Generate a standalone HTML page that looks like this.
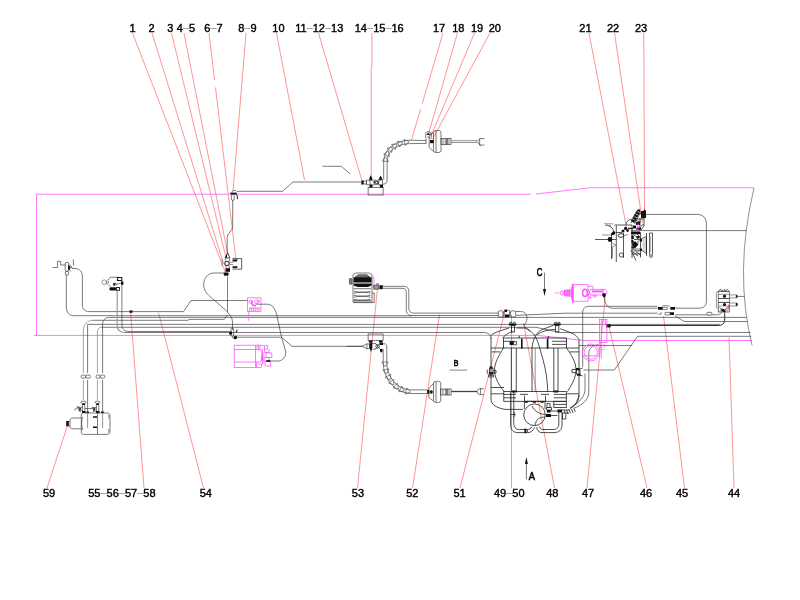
<!DOCTYPE html>
<html><head><meta charset="utf-8">
<style>
html,body{margin:0;padding:0;background:#fff;}
svg{display:block}
text{font-family:"Liberation Sans",sans-serif;font-size:11px;fill:#000;stroke:#000;stroke-width:0.4px}
.d{fill:#888;stroke:none}
.k{fill:none;stroke:#333;stroke-width:0.65}
.g{fill:none;stroke:#666;stroke-width:0.7}
.m{fill:none;stroke:#f5f;stroke-width:0.8}
.r{fill:none;stroke:#f66;stroke-width:0.7}
.b{fill:#111;stroke:none}
</style></head><body>
<svg width="800" height="600" viewBox="0 0 800 600">
<rect width="800" height="600" fill="#fff"/>
<!--LEADERS-->
<g class="r" id="leaders">
<path d="M132.5,33L225.6,273M152,33L223.6,264M171.5,33L225.8,257M184,33L227.5,253M209,33L214.6,80M215.5,87.5L236,260M246,33L233,191M276.5,33L304.5,180M318.5,33L362.5,182.5M371.9,33V67.5M371.2,67.5V176"/>
<path d="M443,33L422.2,103.7M420.7,108.8L411.5,140M457.5,33L428.5,134M474.5,33L431,136M490,33L432.5,139M589,33L626.5,227.5M614.5,33L642.5,222.5M643.8,33L644.5,212"/>
<path d="M47,488L67,427M144,488L130.5,311M203.5,488L158.5,312.5M357.5,488L377.5,288M412.5,488L439.5,314.5M460,488L505,311M511.5,488V315M554.5,488L523.5,323M587,488L605.5,294M647,488L609,326.5M684.5,488L663.5,316M734,488L729,337.5"/>
</g>
<!--MAGENTA-->
<g class="m" id="magenta">
<path d="M36.5,335.5V194.2H531M536,194L590,187.8H754"/>
<path d="M34,335.4H538L584,340.5H752"/>
</g>
<!--PIPES-->
<g class="k" id="pipes">

<!-- top pipe 10 -->
<path d="M237,191.3H282.5L293,182H361M322.5,166.3H341.3L350,173.8"/>
<path d="M232.7,200V226C232.7,232 227.2,232 227.2,238V253"/>
<!-- below valve 1-9 -->
<path d="M227.5,277V312C229.8,314.8 232.5,318 232.5,322V330"/>
<path d="M223.5,273H214C207,273 203.7,279 203.7,285C203.7,290 207,294 210,296.5L227.5,311.8"/>
<!-- left fitting pipes -->
<path d="M72.5,268.5H75C80,268.5 82.4,272 82.4,277V305C82.4,309 85,311.6 89,311.6H183.5L191,300.5H247.6"/>
<path d="M66.3,275V307C66.3,312 69,315.7 74,315.7H412"/>
<rect class="b" x="129.5" y="310.4" width="3" height="2.4"/>
<!-- bundle lines -->
<path d="M110,317.4C105,317.4 102.6,320 102.6,324.5V373M102.6,380V404M110,317.4H746.5"/>
<path d="M92.5,320.3C88.5,320.3 83.4,324 83.4,330V373M83.4,380V400" stroke="#777"/><path d="M92.5,320.3H188L189,319.4H224.1L227.5,315.1"/>
<path d="M87.6,412V380M87.6,373V324.4H720"/>
<path d="M101.5,327.3C99,327.3 97.4,329 97.4,332V373M97.4,380V400" stroke="#777"/><path d="M101.5,327.3H536L560,332.5H750.5"/>
<path d="M117.2,291V325C117.2,330 120,332.5 125,332.5" stroke="#999" stroke-width="1.2"/><path d="M125,332.5H484C488,332.5 491.2,335 491.2,339"/>
<path d="M121.9,284.5V324C121.9,329 124,331.5 129,331.5H232"/>
</g>

<!-- left fitting (top-left) -->
<g class="k" id="fitL">
<path d="M52.5,267.5H57.5V261.3H60.6V265H65.5"/>
<rect x="65.2" y="262.3" width="3.6" height="9" rx="1.8"/>
<rect x="65.4" y="271.5" width="3.2" height="3.5" rx="0.8"/>
<path d="M73.4,259.4V265.6M68.8,266L72.5,268.5M69,269.5L71,271.5M70,264.5L72.5,268.5"/>
<path class="b" d="M68.3,264.5l2.2,3l-1,2.8l-1.5,-1z"/>
</g>
<!-- second left component -->
<g class="k" id="comp2">
<circle cx="104.3" cy="282.3" r="2.4" stroke="#666"/><circle cx="107.4" cy="282.3" r="1.3" stroke="#555"/>
<path d="M108,280L110.3,277.3H119M108,284.5L110.3,286.8"/>
<rect x="117.4" y="277.6" width="4.4" height="2.9" stroke="#111" stroke-width="1"/>
<rect class="b" x="121" y="281.4" width="2.4" height="3.4"/>
<rect class="b" x="113.2" y="283.2" width="2.2" height="2.4"/>
<path d="M116,284.5L121,283M114.5,282.5L117,284.5" />
<rect class="b" x="109.5" y="287.2" width="6.6" height="3.4" rx="1.4"/>
<rect x="116.3" y="287.5" width="3.2" height="2.8" stroke="#111" stroke-width="0.9"/>
</g>
<!-- fitting 8-9 on magenta line -->
<g class="k" id="fit89">
<path class="b" d="M230.3,192.6h6.4v1.8h-6.4z"/>
<path d="M232,192.5C232,190 236,190 236.5,191.3"/>
<rect x="231.4" y="194.6" width="2.8" height="5.6" rx="0.8"/>
<path d="M235.8,194.5C237.6,194.8 237.6,197 237.4,199.2" stroke-width="1.1"/>
</g>
<!-- valve 1-9 -->
<g class="k" id="valve19">
<path d="M227.6,252.6L229.8,258H225.2Z" stroke-width="0.9"/>
<path class="b" d="M227.4,253l-2.2,5h1.6z"/>
<circle cx="227" cy="263.4" r="2.2" stroke-width="1.1"/>
<path d="M222.2,259V266" class="g"/>
<path d="M225.4,258.6V260.5M229.6,258.6V261"/>
<path d="M232.4,258.6H241.7V269.1H232.4" stroke-width="0.8"/>
<path class="b" d="M232.6,259.5h5.2l-1,1.9h-4.2zM232.6,266.3h5.2l-1,1.7h-4.2z"/>
<path d="M229.4,262.4H233.4M229.4,264.6H233.4" class="g"/>
<path class="b" d="M225.5,268.2h4.5v3.6h-4.5z"/>
<path d="M225,266.5L226.5,268.2M229.5,266L229,268.2"/>
<path class="b" d="M223.6,272.6h5v1.8l-1.2,2.2l-1.2,-1.4l-1.4,1l-1.2,-2z"/>
</g>

<!-- valve 14-16 -->
<g class="k" id="valve1416">
<rect x="368.1" y="187.4" width="15" height="7.6"/>
<rect class="b" x="361.3" y="180.5" width="2.2" height="4"/><rect x="363.5" y="181" width="3" height="3"/>
<path d="M366.5,180.2H370V184.8H366.5Z"/>
<path class="b" d="M370.8,175.2l1.4,2.6h-2.8zM369.4,177.8h2.8v2.4h-2.8zM380.6,175.6l1.4,2.4h-2.8zM379.2,178h2.8v2.2h-2.8z"/>
<path d="M370,180.2h6l2,2.3l-2,2.3h-6M376,180.2l4,4.6M380,180.2l-4,4.6M378,179.5h4.5v5.5h-4.5z"/>
<path class="b" d="M369.5,184.8h3v2.6h-3zM380,184.8h3v2.6h-3zM373.5,181.2h2v2.2h-2z"/>
<circle cx="377" cy="182.5" r="1.6"/>
<!-- elbow -->
<path d="M387.1,162V179.5C387.1,182.6 386,184.2 383,184.2M383.7,162V179.5"/>
</g>
<g class="k" id="hoseTop"><path d="M387.1,162.0L387.2,160.6L387.3,159.3L387.5,158.1L387.9,156.9L388.3,155.7L388.8,154.6L389.4,153.5L390.1,152.4L390.9,151.5L391.7,150.5L392.6,149.6L393.6,148.8L394.7,148.0L395.9,147.3L397.1,146.6L398.4,146.0L399.7,145.5L401.2,145.0L402.7,144.6L404.2,144.2L405.8,144.0L407.5,143.8L409.2,143.6L411.0,143.6M383.7,162.0L383.8,160.4L383.9,158.8L384.2,157.3L384.6,155.8L385.1,154.4L385.8,153.0L386.5,151.7L387.3,150.5L388.2,149.3L389.3,148.2L390.3,147.1L391.5,146.1L392.8,145.2L394.1,144.3L395.5,143.6L397.0,142.9L398.6,142.3L400.2,141.7L401.8,141.3L403.6,140.9L405.4,140.6L407.2,140.4L409.1,140.2L411.0,140.2"/><path d="M388.5,161.4 L382.3,161.2 L385.6,156.7 ZM389.5,156.4 L383.7,154.2 L388.3,151.0 ZM391.8,152.5 L387.0,148.5 L392.4,146.9 ZM395.2,149.4 L391.6,144.3 L397.2,144.2 ZM399.6,147.0 L397.4,141.2 L402.8,142.4 ZM405.1,145.5 L404.0,139.4 L409.1,141.7 Z" stroke-width="0.55"/>
<path d="M411,140.2L426,140.6M411,143.6L426,143.4"/>
</g>
<!-- top chamber 17-20 -->
<g class="k" id="chamTop">
<rect x="433.5" y="130.5" width="7.5" height="22" rx="2.2"/>
<path d="M433.5,132.5L429.2,135.5V147.5L433.5,151.5M436,131V152"/>
<rect class="b" x="430" y="140" width="3.6" height="3.2"/>
<path d="M425.8,138.6V133.5C425.8,132.2 427,131.6 428.5,131.8L431.2,132.6V138.6M426.5,134.5H431M427.5,136.5L430.5,138.5M426,138.6V144"/>
<path class="b" d="M427.2,133.2h2.2v1.6h-2.2z"/>
<rect x="441" y="138.6" width="10" height="6"/>
<path d="M443,138.6v6M445.3,138.6v6M449,138.6v6" />
<path d="M447,138.6v6" stroke-width="1.3"/>
<path d="M451,140.7H477M451,142.5H477" class="g"/>
<path d="M477,141.6L480,138.6H484.5M477,141.6L480,145H484.3M479.6,138.6V145M479.6,145L480.6,146.3" />
</g>
<!-- lower valve 53 -->
<g class="k" id="valve53">
<rect x="368.1" y="334" width="15" height="6.6"/>
<path class="b" d="M368.8,340.6h3.6v1.8h-3.6zM379,340.6h3.6v1.8h-3.6z"/>
<path d="M362.6,346.3l4.3,-2.6v5.2zM366.9,344h2.6v4.6h-2.6"/>
<path class="b" d="M369.5,342.4h2.8v5.4l-1.4,4.2l-1.4,-4.2z"/>
<path d="M372.3,343.4h3.2l2.4,2.9l-2.4,2.9h-3.2M375.5,343.4l4.4,5.8M379.9,343.4l-4.4,5.8"/>
<circle cx="377.6" cy="346.3" r="1.8"/>
<path class="b" d="M379.6,342.6h3.4v2.4h-3.4zM380,349h2.6v2.2l-1.3,1.6l-1.3,-1.6z"/>
<path d="M346.5,346.3H362.6"/>
<!-- elbow -->
<path d="M383,343.8H384.2C386.2,343.8 386.8,345 386.8,347V362M383.2,349V362"/>
</g>
<g class="k" id="hoseBot"><path d="M383.2,362.0L383.3,364.1L383.4,366.2L383.7,368.2L384.1,370.2L384.7,372.1L385.3,374.0L386.0,375.8L386.8,377.6L387.8,379.3L388.8,381.0L389.9,382.5L391.1,384.0L392.5,385.4L393.9,386.7L395.3,388.0L396.9,389.1L398.5,390.1L400.3,390.9L402.1,391.7L403.9,392.3L405.9,392.8L407.8,393.2L409.9,393.4L412.0,393.5M386.8,362.0L386.9,363.9L387.0,365.7L387.3,367.6L387.6,369.3L388.1,371.1L388.7,372.8L389.3,374.4L390.1,376.0L390.9,377.5L391.8,379.0L392.8,380.4L393.9,381.7L395.0,382.9L396.2,384.0L397.5,385.1L398.9,386.1L400.3,386.9L401.8,387.7L403.3,388.3L405.0,388.9L406.6,389.3L408.4,389.6L410.2,389.8L412.0,389.9"/><path d="M381.8,362.0 L388.2,362.0 L385.0,366.6 ZM382.7,370.2 L388.9,368.8 L386.8,373.9 ZM385.1,377.2 L390.9,374.5 L389.9,380.1 ZM388.6,383.1 L393.7,379.2 L393.9,384.8 ZM393.2,388.0 L397.3,383.1 L398.8,388.6 ZM398.8,391.8 L401.7,386.1 L404.3,391.0 ZM405.3,394.1 L406.7,387.9 L410.5,392.1 Z" stroke-width="0.55"/>
<path d="M412,389.9H427M412,393.5H427"/>
</g>
<!-- bottom chamber -->
<g class="k" id="chamBot">
<rect x="433.5" y="381.3" width="7.2" height="21.2" rx="2.2"/>
<path d="M433.5,383.3L428.8,388.6V397.6L433.5,401M436,381.8V402"/>
<rect class="b" x="427.2" y="390" width="2.2" height="3.8"/><rect class="b" x="430.2" y="390.3" width="2.4" height="3.4" rx="1"/>
<rect x="440.7" y="389" width="10.4" height="6"/>
<path d="M442.8,389v6M445.3,389v6M449,389v6"/><path d="M447,389v6" stroke-width="1.3"/>
<path d="M451.2,391.5H477" stroke="#444" stroke-width="1.3"/>
<path d="M477.2,391.8C477.2,389.6 478.6,388.8 480.5,388.8H484M477.2,391.8C477.2,393.6 478.6,394.6 480.5,394.6H484M480.6,388V394.6"/>
</g>
<!-- B, A, C marks -->
<g id="marks" style="filter:grayscale(1)">
<text x="453.7" y="366.3" style="font-size:9.1px;stroke-width:0.6px" text-anchor="start" textLength="4.6" lengthAdjust="spacingAndGlyphs">B</text>
<path d="M449.4,370.1H467.1" stroke="#888" stroke-width="1" fill="none"/>
</g>

<!-- comp 53 air chamber -->
<g class="k" id="comp53">
<path d="M353,302V274.7C354.5,273.6 355.5,273 357,273H367.7C369.5,273 370.5,273.6 372,274.7V302Z"/>
<path d="M354.8,277.2L358.3,274.8H367L370,277.2Z" fill="#777" stroke="#333"/>
<path class="b" d="M353.5,277.3H371.6V282.6H353.5ZM353.6,283.5H371.6V285.4L367.7,286.9H357.7L353.6,285.4Z"/>
<rect x="349.4" y="278.6" width="2.6" height="5.6" rx="0.5" fill="#888" stroke="#333"/>
<path d="M353.5,288.7H371M354,291.3C358,292.5 366,292.5 370.5,291.3M354,293.2C358,291.9 366,291.9 370.5,293.2M354,295.3C358,296.5 366,296.5 370.5,295.3M354,297.2C358,295.9 366,295.9 370.5,297.2M354,299.3C358,300.3 366,300.3 370.5,299.3M353.5,300.6H371" stroke="#3a3a3a" stroke-width="0.7"/>
<path d="M372,293H374.2V302.6H353"/>
<path d="M372.4,275.3C374.6,278 374.6,285 372.6,288" stroke="#f7f" stroke-width="1"/>
<path d="M373.7,285.2h5v4h-5z" fill="#999" stroke="#333"/><path class="b" d="M379.4,285.2h3.4v4h-3.4z" fill="#333"/>
<path d="M376.5,285V283.8H378.6V285"/>
<path d="M383,286.3H403.5C407,286.3 408.8,288 408.8,291.5V308C408.8,311.5 410.5,313.1 414,313.1H498.5"/>
<path d="M383,288.3H402C405,288.3 406.3,289.5 406.3,292.5V309.5C406.3,313.5 408.5,315.5 412,315.5H498.5"/>
</g>
<!-- fitting group at tank top-left (49-50 / 51) -->
<g class="k" id="fit4950">
<rect x="498.3" y="310.8" width="4.6" height="6.2" rx="1.2"/>
<rect x="504" y="310.4" width="5.6" height="6.8" rx="0.8"/>
<rect x="510.6" y="310.8" width="5" height="6.2" rx="1.4"/>
<path class="b" d="M504.6,309.6h2.4v2.4h-2.4zM505,314.6h4v2.4h-4z"/>
<path d="M502.9,312.5h1.1M502.9,315.5h1.1M509.6,312.5h1M509.6,315.5h1"/>
<path d="M515.6,311.5H520.5C525,311.5 527,314.5 527,318.5C527,321.5 525.5,323.5 524,325.2C525,327 527,329 530,331.5"/>
</g>

<!-- fitting at 233,334 -->
<g class="k" id="fit233">
<rect x="231" y="328" width="2.6" height="8.4" rx="1.2"/>
<circle class="b" cx="230.6" cy="333.2" r="1.5"/><circle class="b" cx="235.4" cy="337.5" r="1.8"/>
<path d="M237.2,329.6L236,332.8" stroke-width="1.2"/>
<path d="M232.5,336.4C232.5,338.5 234,339 235,338.6"/>
<path d="M236.5,337.2H281.5L292,346.3H363"/>
</g>
<!-- magenta small valve near 254,304 -->
<g class="m" id="mvalve" stroke-width="0.7">
<rect x="247.6" y="297.8" width="13.4" height="13.6"/>
<path d="M248.7,311.4V320.8"/>
<path d="M249,308H260M249.6,308v3M251.5,308v3M253.4,308v3M255.3,308v3M257.2,308v3M259,308v3M249,300.5h3v2.5h-3zM256.5,299.5a2,2 0 1 0 0.1,0"/>
<path d="M252.5,301C251,303.5 252.5,306.5 256,305.5" stroke-width="1.6"/>
<circle cx="258.3" cy="301.3" r="1.2"/>
</g>
<g class="k">
<path d="M255.4,304.2H267C272,304.2 275,308 276.8,315L281.5,337.2L285,349C286.6,354 285.5,357.5 281.5,360C280,361 279,361 277.5,361H266.5"/>
</g>
<!-- magenta big component -->
<g class="m" id="mbig" stroke-width="0.7">
<rect x="234.2" y="345.2" width="21.3" height="22.3"/>
<path d="M234.2,349.5H255.5M234.2,362H255.5"/>
<path d="M255.5,345.2H261.5M255.5,367.5H261M255.5,349.5H260.5M255.5,362H260.5M257,345.2V349.5M258.5,345.2V349.5M260,345.2V349.5M256.5,362V367.5M258,364H261.5V367.5"/>
<path d="M260.5,349.5C262.5,353 262.5,358 260.5,362"/>
<path d="M261.5,345.6H267.5V349H264.5V346M262.5,349V364M264.5,349V352.5H269V349M266,353H271.8V357.5H266ZM264,357.5H269V361H264ZM265,361.5H270.5V366H265ZM263,352.5V364.5"/>
<path d="M262.5,354C261.5,356 261.5,359 262.5,361" stroke-width="1.3"/>
</g>
<rect class="b" x="266.3" y="360.2" width="4" height="1.6" fill="#666"/>

<!-- comp 59 -->
<g class="k" id="comp59">
<rect x="81.2" y="375" width="4.4" height="3.2" rx="1.4"/><rect x="85.8" y="375" width="4.6" height="3.2" rx="1.4"/>
<rect x="96" y="375" width="4.2" height="3.2" rx="1.4"/><rect x="100.4" y="375" width="4.4" height="3.2" rx="1.4"/>
<ellipse cx="83.5" cy="402.3" rx="2.6" ry="1.2"/><ellipse cx="97.5" cy="402.3" rx="2.6" ry="1.2"/>
<path class="b" d="M82.2,403.6h2.8v1.4h-2.8zM96.2,403.6h2.8v1.4h-2.8z"/>
<path d="M82.4,405V411M84.8,405V411M96.4,405V411M98.8,405V411"/>
<path d="M75,409L79,407L82.4,407.5M79,407V411L82.4,410.5M77,406L80.5,412M75.5,410.5L74.5,409.2M84.8,408.5H92L93.5,407.5L96.4,407.5M93.5,407.5V411.5L96.4,410.5M92,406.5L94.5,411.5"/>
<path class="b" d="M79.5,407.3l2,1.6l-2,1.6zM93.8,407.6l2,1.4l-2,1.4z"/>
<path class="b" d="M82,411h3.6v2h-3.6zM86.4,411.4h2.6v1.6h-2.6zM96,411h3.6v2h-3.6zM101,411.4h2.8v1.6h-2.8z"/>
<path d="M102.6,404V412.5"/>
<path d="M83.5,413H107C109,413 110,414 110,416V431.5C110,433.5 109,434.4 107,434.4H83.5C82,434.4 81.3,433.5 81.3,432.5V415C81.3,413.8 82,413 83.5,413Z"/>
<path d="M81.3,418H72.5C70.8,418 70,419 70,420.5V426.3C70,427.8 70.8,428.8 72.5,428.8H81.3"/>
<path d="M82.8,417C81.2,420 81.2,427 82.8,430M97.5,413V434.4M108.3,415C109.2,416 109.2,417.5 108.4,418.5M108.3,429C109.2,430 109.2,431.5 108.4,432.5"/>
<path d="M87.6,413V428M102.6,413V428" class="g"/>
<rect class="b" x="66.2" y="421" width="2.6" height="5.4"/>
<path d="M68.8,421.5H70M68.8,426H70"/>
<path class="b" d="M93,416.3h4v1.5h-4zM93,426.4h4v1.5h-4z"/>
</g>

<!-- TANK ASSEMBLY -->
<g class="k" id="tank" style="stroke:#222;stroke-width:0.8">
<!-- frame -->
<path d="M491,337.5V399C491,405 497,408 505,409.4H523"/>
<path d="M579,340V395C579,402 575,406 570,407.5"/>
<!-- domes -->
<path d="M490.3,336.3C491,334.5 496,332 502.8,330L509,328M516.5,328H525C529,329 533,333 535.3,336.3C537,340 538.5,343.5 539.2,346.3C542,356 545,366 546.3,375C547.2,381 547.6,386 547.8,391.5"/>
<path d="M512.5,331.5C508,333 504.5,335.5 502.5,338"/>
<path d="M535.3,335.6C537,333 540,330.5 542.8,329.4L553.5,325.2M560.3,328.7L569,332C573,333.6 575.5,335 576.5,336.3C578,338 579,339 579,340"/>
<path d="M536.5,335C540,332.6 545,330.6 549,330L555,329.4"/>
<path d="M535.3,336.3C533.5,339.5 532.3,343.5 532,348.5V391.5"/>
<!-- top fittings -->
<path class="b" d="M508.8,323.4h7.4v2h-7.4z"/><rect x="511.4" y="325.4" width="3.2" height="6.6"/>
<path d="M509.5,323.4C509.5,321.8 512,321.8 512,323.4M513,323.4C513,321.8 515.6,321.8 515.6,323.4"/>
<path class="b" d="M553.8,323.4h6.8v2h-6.8z"/><rect x="555.6" y="325.4" width="3.2" height="6.6"/>
<path d="M554.4,323.4C554.4,321.8 557,321.8 557,323.4M557.6,323.4C557.6,321.8 560.2,321.8 560.2,323.4"/>
<!-- upper bar -->
<rect x="503.4" y="338" width="63.1" height="10"/>
<path d="M503.4,341.3H514.6M552,341.3H566.5M552,344.4H566.5M491,348H503.4M491.5,351.9H500.3M566.5,348H579M569.5,351.9H579"/>
<path d="M521.8,338.8V348.8M547.6,338.8V348.8" stroke-width="1.6" stroke="#111"/>
<path class="b" d="M509.6,341.3h4v3.6h-4z"/><path d="M513.6,341.6h3v3.2h-3z"/>
<path d="M519.8,336.2C518.4,336 518.4,338 519.8,337.8M548.2,336V338.8" stroke-width="0.9"/>
<!-- barrel arcs -->
<path d="M503.4,348C500,354 494.5,362 494.5,370C494.5,378 499,385 504.4,392"/>
<path d="M566.5,348C571,354 576,362 576,370C576,378 571.5,385 567.5,391.6"/>
<!-- straps -->
<path d="M511.3,348V391.6M516.3,348V391.6M553.8,348V391.6M558,348V391.6"/>
<path d="M535.2,348V391.6" class="g"/>
<!-- lower bar -->
<rect x="503.8" y="391.6" width="62.5" height="9.7"/>
<path d="M503.8,394.4H516M503.8,397.8H516M553.8,394.4H566.3M553.8,397.8H566.3M491,387.5H504M491,393.8H504M567,393.8H579"/>
<path class="b" d="M512,390.6h4.6v2h-4.6zM553.6,390.6h4.6v2h-4.6z"/>
<path d="M520,394.4H528M541,394.4H549M524.5,401.3V395.5M545.5,401.3V395.5"/>
<!-- drum -->
<circle cx="534.5" cy="414.8" r="10.8"/>
<path class="b" d="M524.8,401.3h3v1.5h-3zM532.6,401.3h3.4v1.5h-3.4zM540.6,401.3h3v1.5h-3z"/>
<path d="M524.4,401.3H545M524.4,401.3V409M545,401.3V409"/>
<path d="M532,406C535,412 540,414 545,414.6M545.2,417C540,417 535.6,419 535,426"/>
<!-- U pipes -->
<path d="M510.6,392V424C510.6,430 513,432.6 518,432.6H528C531,432.6 533,430.5 534.6,427.4M513.8,392V422.5C513.8,427.5 515.5,429.5 519.5,429.5H527C529.5,429.5 531,428.4 532,426.6"/>
<path d="M536.8,427.2C537,430.5 539,432.6 542,432.6H554C559,432.6 562,430 562,425V412.5M539.6,426.6C540,428.6 541,429.5 543,429.5H553C557,429.5 558.8,427.5 558.8,424V412.5"/>
<path class="b" d="M524.4,428.6h1.8v4.6h-1.8z"/><path d="M526.2,429.5L528,431L526.2,432.6"/>
<path d="M513,412C515.5,412 515.5,417 513,417M511,414.5H515"/>
<!-- valve cluster right bottom -->
<rect x="553.8" y="401.3" width="12.5" height="6.2"/>
<path d="M553.8,404.4H566.3"/>
<path d="M547,403.5H550V407.5H547ZM546.5,407.5H551.5V410H546.5Z"/>
<path class="b" d="M547,410h3.6v2.4h-3.6zM546,414h5v3h-5zM557.4,409.4h4.6v3h-4.6z"/>
<path d="M551,411H557.4M551,415.5H557.4M562,410H570M562,413H569M564,410L565.5,414M566.5,410L568,414M569,409.5L570.5,413.5M571.5,409L573,413M574,408.5L575.2,412"/>
<path d="M562.5,413V419H565.8V414"/>
<!-- right curve s-shape -->
<path d="M579,395C577,403 574,407 570,408.5"/>
<!-- side fittings -->
<path class="b" d="M489.6,366.6h3v2h-3zM489,372.6h4.6v1.8h-4.6z"/>
<rect x="489.4" y="368.6" width="3.6" height="4"/>
<path d="M487.6,369.5C486.8,371 487,373.5 488.4,374.6M493.2,370.4H496V373H493.2M488.6,375.4H493.6V377H488.6Z"/>
<path class="b" d="M576,368h3.6v2h-3.6zM577,374h3.6v1.8h-3.6z"/>
<rect x="576.4" y="370" width="3.6" height="4"/>
<path d="M572,369.4H576.4M572,372.6H576.4M572,369.4V372.6M580,369L582.5,368M580,375L582.5,376"/>
</g>

<!-- right of tank -->
<g class="k" id="rtank">
<path d="M582.7,367V312.5C582.7,308.5 585,306.3 589,306.3H657.5"/>
<path d="M604.4,297C604.4,301 605,303.5 607,305.5C608.5,307.2 610,308.2 612.5,308.2H657.5"/>
<path d="M516,315.4L565,313.2H657.5"/>
<path d="M579,345.5H632"/>
<path d="M751.3,336.3H637.5L614.3,370H583.5"/>
<path d="M608,325.5H718C722.5,325.5 724.7,323.5 724.7,319V312.3" stroke="#333" stroke-width="1"/>
<rect class="b" x="606.2" y="324.2" width="4.4" height="3.2"/>
<path d="M598.3,344.7C592.5,345.2 588.8,348.5 588.8,353.5V392C588.8,400 582,405.5 573.3,408.4"/>
<path d="M585,373.5V389C585,396 579.5,402.5 572.5,406.5"/>
</g>
<g class="m" stroke-width="0.7" id="m47b">
<rect x="599.4" y="319.4" width="7.5" height="23"/>
<path d="M601.3,319.4V358.8M599.4,342.4V357M602.5,321h3v3.5h-3z"/>
<path d="M603.5,344.5C606,344.5 606,347.5 603.5,347.5M602,349.5H604.5"/>
<circle cx="590.8" cy="352.5" r="8.4"/><circle cx="590.8" cy="352.5" r="6.6"/>
<path d="M584,355.8H597.5"/>
</g>

<!-- magenta valve 47 -->
<g class="m" stroke-width="0.7" id="m47">
<path d="M554.8,292.9H559.6" stroke-dasharray="2 0.8"/>
<ellipse cx="561.8" cy="292.9" rx="1.3" ry="2.2"/>
<path d="M564.6,289.8V296M566.2,289.4V296.4M567.8,289.2V296.6M569.4,289V296.8" stroke-width="1.3"/>
<path d="M563,291.5H571M563,294.3H571"/>
<path d="M571,289.5L573,283.7V303L571,296.5Z" fill="#f5f"/>
<rect x="573.2" y="284.6" width="14.8" height="16.6"/>
<ellipse cx="585" cy="292.9" rx="2.4" ry="3.6" stroke-width="1.5"/>
<path d="M588,286.3H592.9V289.4M588,299L590,297L591,299.5M588.5,289.4L590.5,295M590.5,289.4L588.5,295M588,295L591.5,297.5"/>
<path d="M590,289.4H604C606,289.4 606.9,290.5 606.9,292.2C606.9,294 606,295 604,295H590"/>
<path d="M592,291.4H603" stroke-width="2"/>
<rect x="592.9" y="295.2" width="3.5" height="1.7" rx="0.8"/>
<path d="M603,288.8V295.6"/>
</g>
<path class="b" d="M602.4,293.2h3.2v2.6l-0.8,1.4h-1.4l-1,-1.4z"/>
<!-- C and A arrows -->
<g id="arrows" style="filter:grayscale(1)">
<path class="k" d="M544.5,272.6V292M526.4,460V479.4"/>
<path class="b" d="M544.5,296.3l-1.5,-7.3h3zM526.4,456.9l-1.5,7.2h3z"/>
<text x="536.7" y="276.4" style="font-size:10.2px;stroke-width:0.6px" text-anchor="start" textLength="5.6" lengthAdjust="spacingAndGlyphs">C</text>
<text x="528.8" y="479.7" style="font-size:11.5px;stroke-width:0.6px" text-anchor="start" textLength="6.2" lengthAdjust="spacingAndGlyphs">A</text>
</g>

<!-- right frame boundary -->
<g class="k" id="rframe">
<path d="M754,188Q734,272 752,345.3" stroke="#555"/>
<path d="M645,214.4H697C703,214.4 706.4,218 706.4,224V301C706.4,306 703.5,308.2 699,308.2H675.3"/>
<path d="M631,230.6H746.6"/>
</g>
<!-- valve 45 -->
<g class="k" id="valve45">
<path class="b" d="M658,307h4.6v2.7h-4.6zM670.3,307h4.7v2.7h-4.7zM670,312.3h4v2.7h-4z" fill="#222"/>
<path d="M662.6,307.2h4.6v2.3h-4.6zM665,312.4h5v2.5h-5zM658.6,315L660.8,312.5M660,315L662,312.5" stroke="#444"/>
<path d="M662,306.2C664,305.4 668,305.4 670,306.2" class="g"/>
<path d="M675.3,314.8H716.5C720,314.8 721.8,313.5 721.8,310.8"/>
<rect x="706.8" y="312.3" width="5.2" height="2.8" rx="1.2" fill="#fff"/>
<path d="M675.3,316L684.3,321.5H747.5"/>
</g>
<!-- right component -->
<g class="k" id="rcomp">
<rect x="718.2" y="291.6" width="11.1" height="20.4"/>
<path d="M718.2,291.6H717.4C716.8,291.6 716.4,292 716.4,292.8V307.2C716.4,308 716.8,308.4 717.4,308.4H718.2" stroke="#666"/>
<path d="M718.2,294.3H729.3M718.2,306H729.3" stroke="#666"/>
<path d="M718.2,298.5H729.3M718.2,302.4H729.3" stroke="#222" stroke-width="0.8"/>
<path d="M729.3,294.9H736.4C737.2,294.9 737.5,295.6 737.5,296.4C737.5,297.2 737.2,297.9 736.4,297.9H729.3M729.3,303H736.6C737.4,303 737.7,303.7 737.7,304.5C737.7,305.3 737.4,306 736.6,306H729.3" stroke="#555"/>
<ellipse class="b" cx="736.6" cy="296.4" rx="0.8" ry="1.4"/><ellipse class="b" cx="736.6" cy="304.5" rx="0.9" ry="1.4"/>
<circle class="b" cx="724.5" cy="296.2" r="1.6"/><circle class="b" cx="724.5" cy="304.5" r="1.6"/>
<path d="M719,291.6C719,288.6 721.6,288.6 721.8,291M722.4,291.4C723,289 725,289 725.4,291.4M725.8,291.4C726,288.4 728.4,288.4 728.4,291.6M720.5,290.5L724,291.6M724,290L727.5,291.6"/>
<path class="b" d="M722,308.4l2.6,1l1.4,2.2l-2.4,0.6l-2.4,-1.6z"/>
<path d="M719.5,307.5L723,310M727.5,307L725,310M719.5,311L722,309M727.5,311L725.5,309.4" stroke="#222"/>
<path d="M737.5,296.4H744.4"/>
<path d="M728.4,304.8L728,310.2" stroke="#e33" stroke-width="1"/>
</g>

<!-- engine component 21-23 -->
<g class="k" id="engine" style="stroke:#222;stroke-width:0.75">
<path d="M632.5,222L638.8,210.5" stroke="#111" stroke-width="4" stroke-dasharray="2.4 0.6"/>
<path d="M631,223L637,211.5M634.5,224L640.5,212" stroke="#333"/>
<path class="b" d="M636,222h4v3h-4zM633,225.5h3v3h-3zM636.5,227.5h4.5v2.5h-4.5z"/>
<path d="M632,232V225M634,220L641,222M641,226L644,224"/>
<path class="b" d="M641,211h5v7h-5zM639,208.6l1.6,2.4h-3zM644.5,209l1.4,2h-2.6z"/>
<path d="M638,214H641M636,219H644M640,218V230M644,218V226L641,230"/>
<path d="M626,224.5C626.5,221.5 628.5,219.5 631.5,219"/>
<path d="M614.5,225H632M616,232.5H622"/>
<path d="M638,223.5V231" stroke="#f5f" stroke-width="1.1"/>
<circle class="b" cx="625.6" cy="228.4" r="1.6"/><circle class="b" cx="623" cy="231" r="1.5"/><circle class="b" cx="627.6" cy="230.6" r="1.4"/>
<path d="M628,228.5H633" stroke-width="1.4"/>
<ellipse cx="621" cy="235.5" rx="3" ry="1.8" stroke-width="0.9"/>
<path d="M624,235.5L628,234.5" class="g"/>
<path d="M611.5,233V259M616.3,225.5V262M623.5,233V258M632,232V258M640.5,232V257.5"/>
<path d="M604,223.8H613M605,225.6H611M606,224L609,226" class="g"/>
<path d="M609,226C612,227 613.5,229 613.5,232"/>
<ellipse class="b" cx="613.4" cy="233.2" rx="2.3" ry="1.6" transform="rotate(-40 613.4 233.2)"/>
<path d="M602,235H611" class="g" stroke-width="1"/>
<path d="M595,239.5H616.5"/>
<circle class="b" cx="610" cy="239.5" r="2.4"/>
<path d="M611.5,243L616,245L611.5,247.5Z" class="g"/>
<path d="M612.5,247V258" class="g" stroke-width="1.6" stroke="#aaa"/>
<circle cx="621.3" cy="255" r="2.1"/>
<!-- lower cluster -->
<path class="b" d="M631,231.6h9v2.6h-9zM631.4,235.6h2.4v3.4h-2.4zM639.6,238.6h2.4v2.8h-2.4zM639.8,248.6h2.2v2.4h-2.2z"/>
<path d="M633.5,234.5L638,238M637,234L640,237M634,239.5H639.5M633,241V244M638,240.5V243.5"/>
<path class="b" d="M635,241l3.4,3.6l-3.4,3.8l-3.4,-3.8z"/>
<path class="b" d="M631.4,240h2v3h-2zM636.5,236h3v2.4h-3zM631.5,246.5h2.5v2h-2.5z"/>
<path d="M633,252L638,256M636,252L641,255M632,254H641"/>
<path d="M632,249H640.5M632,251H640.5M633,249.5L639,251" stroke="#555"/>
<path d="M631,250L636,260.5"/>
<!-- flange -->
<path d="M642,238.5L646.5,236.5V253.5L642,250.5"/>
<path d="M643,239V250.5M644.2,238.5V251.5M645.4,238V252.5" stroke="#999" stroke-width="0.5"/>
<path d="M646.5,233V256M649.6,233V254.5M652.5,233V254.5M649.6,233H652.5"/>
<path d="M650.6,236V252" stroke="#999"/>
<ellipse cx="651" cy="256" rx="1.5" ry="1.3"/>
</g>
<!--LABELS-->
<g id="labels" text-anchor="middle" style="filter:grayscale(1)">
<text x="132.5" y="32">1</text><text x="151.6" y="32">2</text><text x="170.4" y="32">3</text>
<text x="186" y="32">4<tspan class="d" dy="-1.1">–</tspan><tspan dy="1.1" font-size="0">.</tspan>5</text>
<text x="213.5" y="32">6<tspan class="d" dy="-1.1">–</tspan><tspan dy="1.1" font-size="0">.</tspan>7</text>
<text x="247.4" y="32">8<tspan class="d" dy="-1.1">–</tspan><tspan dy="1.1" font-size="0">.</tspan>9</text>
<text x="278.4" y="32">10</text>
<text x="319.25" y="32">11<tspan class="d" dy="-1.1">–</tspan><tspan dy="1.1" font-size="0">.</tspan>12<tspan class="d" dy="-1.1">–</tspan><tspan dy="1.1" font-size="0">.</tspan>13</text>
<text x="379.25" y="32">14<tspan class="d" dy="-1.1">–</tspan><tspan dy="1.1" font-size="0">.</tspan>15<tspan class="d" dy="-1.1">–</tspan><tspan dy="1.1" font-size="0">.</tspan>16</text>
<text x="439" y="32">17</text><text x="458.25" y="32">18</text><text x="477" y="32">19</text><text x="494.75" y="32">20</text>
<text x="585.4" y="32">21</text><text x="613" y="32">22</text><text x="641" y="32">23</text>
<text x="49" y="497.2">59</text>
<text x="121.9" y="497.2">55<tspan class="d" dy="-1.1">–</tspan><tspan dy="1.1" font-size="0">.</tspan>56<tspan class="d" dy="-1.1">–</tspan><tspan dy="1.1" font-size="0">.</tspan>57<tspan class="d" dy="-1.1">–</tspan><tspan dy="1.1" font-size="0">.</tspan>58</text>
<text x="205.75" y="497.2">54</text><text x="357.9" y="497.2">53</text><text x="412.25" y="497.2">52</text>
<text x="459.6" y="497.2">51</text>
<text x="509.25" y="497.2">49<tspan class="d" dy="-1.1">–</tspan><tspan dy="1.1" font-size="0">.</tspan>50</text>
<text x="552.25" y="497.2">48</text><text x="588" y="497.2">47</text><text x="646" y="497.2">46</text><text x="682" y="497.2">45</text><text x="734" y="497.2">44</text>
</g>
</svg>
</body></html>
